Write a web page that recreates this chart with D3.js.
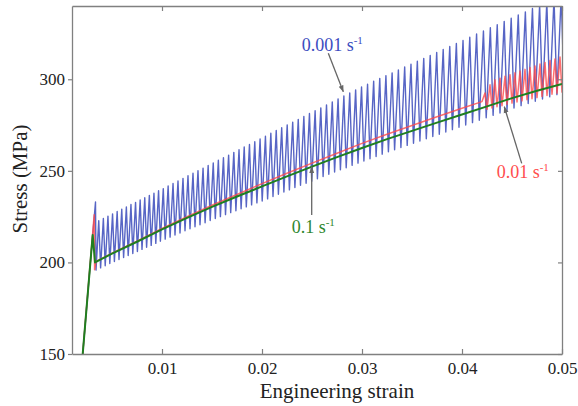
<!DOCTYPE html>
<html>
<head>
<meta charset="utf-8">
<script src="https://cdn.jsdelivr.net/npm/d3@7"></script>
<style>
  body { margin: 0; background: #fff; }
  svg { display: block; }
  svg text { font-family: "Liberation Serif", "Times New Roman", Times, serif !important; }
</style>
</head>
<body>
<svg id="chart" width="578" height="406"></svg>
<script>
// Axis ticks
const xTicks = [0.01, 0.02, 0.03, 0.04, 0.05];
const xTickLabels = ["0.01", "0.02", "0.03", "0.04", "0.05"];
const yTicks = [150, 200, 250, 300];
const yTickLabels = ["150", "200", "250", "300"];

// 0.1 s^-1 : smooth stress-strain response
const greenStrain = [0.00207, 0.00307, 0.0033, 0.005, 0.0075, 0.01, 0.0125, 0.015, 0.0175, 0.02,
  0.0225, 0.025, 0.0275, 0.03, 0.0325, 0.035, 0.0375, 0.04, 0.0425, 0.045, 0.0475, 0.05];
const greenStress = [150, 215, 200, 204.8, 211.3, 218, 224.3, 230.3, 236, 241.5,
  247, 252.3, 257.5, 262.5, 267.3, 271.8, 276.3, 280.8, 285.2, 289.7, 293.7, 297.5];

// 0.01 s^-1 : smooth part, then serrations from 4.2 % strain
const redStrain = [0.00207, 0.00322, 0.00326, 0.0034, 0.005, 0.0075, 0.01, 0.0125, 0.015, 0.0175,
  0.02, 0.0225, 0.025, 0.0275, 0.03, 0.0325, 0.035, 0.0375, 0.04];
const redStress = [150, 226, 196, 200.5, 205.0, 211.6, 218.5, 225.0, 231.2, 237.1,
  243.0, 248.7, 254.2, 259.6, 265.0, 270.0, 274.8, 279.5, 284.2];
const redTeethStrain = [0.0420, 0.0425, 0.0430, 0.0435, 0.0440, 0.0445, 0.0450, 0.0455, 0.0460,
  0.0465, 0.0470, 0.0475, 0.0480, 0.0485, 0.0490, 0.0495, 0.0500];
const redTeethLow = [287.8, 283.6, 284.3, 285.0, 285.6, 286.3, 287.0, 287.6, 288.2,
  288.8, 289.4, 290.0, 290.6, 291.2, 291.8, 292.4, 293.0];
const redTeethHigh = [292.5, 297.0, 299.7, 300.6, 301.6, 302.5, 303.5, 304.5, 305.4,
  306.4, 307.3, 308.3, 309.2, 310.2, 311.1, 312.1, 313.0];

// 0.001 s^-1 : elastic loading, yield spike, then serrated flow
const blueStrain = [0.00207, 0.00335];
const blueStress = [150, 233];
const blueTeethStrain = [
  0.00340, 0.00386, 0.00432, 0.00478, 0.00524, 0.00570, 0.00616, 0.00662, 0.00708, 0.00754,
  0.00800, 0.00846, 0.00892, 0.00938, 0.00984,
  0.01032, 0.01081, 0.01130, 0.01180, 0.01230, 0.01280, 0.01330, 0.01380, 0.01431, 0.01482,
  0.01533, 0.01584, 0.01635, 0.01687, 0.01739, 0.01791, 0.01843, 0.01896, 0.01949, 0.02002,
  0.02056, 0.02110, 0.02164, 0.02219, 0.02274, 0.02329, 0.02385, 0.02441, 0.02497, 0.02554,
  0.02611, 0.02668, 0.02726, 0.02784, 0.02842, 0.02901, 0.02960, 0.03019,
  0.03080, 0.03141, 0.03202, 0.03264, 0.03326, 0.03389, 0.03452, 0.03515, 0.03579, 0.03643,
  0.03708, 0.03773, 0.03838, 0.03904, 0.03970, 0.04037,
  0.04105, 0.04173, 0.04242, 0.04311, 0.04380, 0.04450, 0.04520, 0.04591, 0.04662, 0.04733,
  0.04805, 0.04877, 0.04949, 0.05021];
const blueTeethLow = [
  195.8, 197.0, 198.2, 199.4, 200.5, 201.6, 202.7, 203.8, 204.9, 206.0, 207.1, 208.3, 209.3, 210.4, 211.6,
  212.7, 213.8, 215.0, 216.1, 217.3, 218.4, 219.5, 220.6, 221.7, 222.9, 224.0, 225.0, 226.1, 227.2, 228.2,
  229.3, 230.3, 231.4, 232.5, 233.5,
  234.7, 236.0, 237.2, 238.4, 239.6, 240.9, 242.1, 243.2, 244.4, 245.7, 246.9, 248.1, 249.4, 250.6, 251.7,
  253.0, 254.2, 255.4,
  256.6, 257.8, 259.1, 260.4, 261.5, 262.7, 263.9, 265.1, 266.3, 267.5, 268.7, 270.0, 271.2, 272.5, 273.8, 275.0,
  276.3, 277.6, 279.0, 280.3, 281.6, 283.0, 284.3, 285.6, 286.8, 288.0, 289.2, 290.4, 291.6, 292.8];
const blueTeethHigh = [
  222.8, 224.0, 225.3, 226.5, 227.8, 229.0, 230.3, 231.6, 232.8, 234.1, 235.3, 236.6, 237.8, 239.1, 240.3,
  241.7, 243.1, 244.5, 245.9, 247.3, 248.7, 250.1, 251.5, 252.9, 254.3, 255.8, 257.2, 258.6, 260.1, 261.5,
  263.0, 264.4, 265.9, 267.4, 268.9,
  270.5, 272.0, 273.5, 275.1, 276.6, 278.1, 279.7, 281.3, 282.8, 284.4, 286.0, 287.6, 289.3, 290.9, 292.5,
  294.2, 295.8, 297.3,
  298.9, 300.5, 302.0, 303.5, 305.1, 306.7, 308.2, 309.8, 311.4, 313.0, 314.6, 316.3, 317.9, 319.5, 321.2, 322.9,
  324.7, 326.4, 328.1, 329.8, 331.6, 333.3, 335.1, 336.8, 338.6, 340.4, 342.2, 344.0, 345.8, 347.6];

// Strain-rate labels
const labelText = ["0.001 s", "0.01 s", "0.1 s"];
const labelSup = ["-1", "-1", "-1"];

const width = 578, height = 406;
const margin = { left: 72, right: 16, top: 6, bottom: 52 };
const svg = d3.select("#chart");
const serif = '"Liberation Serif", "Times New Roman", serif';

const x = d3.scaleLinear().domain([0.001, 0.05]).range([margin.left, width - margin.right]);
const y = d3.scaleLinear().domain([150, 340]).range([height - margin.bottom, margin.top]);

const colors = { blue: "#3a4abb", red: "#ff4a4a", green: "#1f7f1f", axis: "#808080", arrow: "#666",
  blueText: "#3b4cc0", redText: "#ff4d4d", greenText: "#2e872e" };

const defs = svg.append("defs");
defs.append("clipPath").attr("id", "plotClip")
  .append("rect")
  .attr("x", margin.left).attr("y", margin.top)
  .attr("width", width - margin.left - margin.right)
  .attr("height", height - margin.top - margin.bottom);
defs.append("marker").attr("id", "arrowHead")
  .attr("viewBox", "0 0 10 10").attr("refX", 9).attr("refY", 5)
  .attr("markerWidth", 7).attr("markerHeight", 7).attr("orient", "auto")
  .attr("markerUnits", "userSpaceOnUse")
  .append("path").attr("d", "M0,1.5 L10,5 L0,8.5 Z").attr("fill", colors.arrow);

// Build a serrated vertex list: each trough rises to its peak, then drops to the next trough
function serrations(xs, lows, highs, riseFrac) {
  const pts = [];
  xs.forEach((s, i) => {
    const next = i < xs.length - 1 ? xs[i + 1] : s + (s - xs[i - 1]);
    pts.push([s, lows[i]]);
    pts.push([s + riseFrac * (next - s), highs[i]]);
  });
  return pts;
}

const line = d3.line().x(d => x(d[0])).y(d => y(d[1]));
const plot = svg.append("g").attr("clip-path", "url(#plotClip)");

const bluePts = blueStrain.map((s, i) => [s, blueStress[i]])
  .concat(serrations(blueTeethStrain, blueTeethLow, blueTeethHigh, 0.6));
plot.append("path").datum(bluePts).attr("d", line)
  .attr("fill", "none").attr("stroke", colors.blue).attr("stroke-width", 1.4)
  .attr("stroke-opacity", 0.85).attr("stroke-linejoin", "round");

const redPts = redStrain.map((s, i) => [s, redStress[i]])
  .concat(serrations(redTeethStrain, redTeethLow, redTeethHigh, 0.6));
plot.append("path").datum(redPts).attr("d", line)
  .attr("fill", "none").attr("stroke", colors.red).attr("stroke-width", 1.5)
  .attr("stroke-opacity", 0.8).attr("stroke-linejoin", "round");

const greenPts = greenStrain.map((s, i) => [s, greenStress[i]]);
plot.append("path").datum(greenPts).attr("d", line)
  .attr("fill", "none").attr("stroke", colors.green).attr("stroke-width", 2)
  .attr("stroke-linejoin", "round");

// Frame and axes
const axisG = svg.append("g");
axisG.append("g").attr("transform", `translate(0,${height - margin.bottom})`)
  .call(d3.axisBottom(x).tickValues(xTicks).tickFormat((d, i) => xTickLabels[i])
    .tickSizeInner(-5).tickSizeOuter(0).tickPadding(8));
axisG.append("g").attr("transform", `translate(0,${margin.top})`)
  .call(d3.axisTop(x).tickValues(xTicks).tickFormat("").tickSizeInner(-5).tickSizeOuter(0));
axisG.append("g").attr("transform", `translate(${margin.left},0)`)
  .call(d3.axisLeft(y).tickValues(yTicks).tickFormat((d, i) => yTickLabels[i])
    .tickSizeInner(4).tickSizeOuter(0).tickPadding(3));
axisG.append("g").attr("transform", `translate(${width - margin.right},0)`)
  .call(d3.axisRight(y).tickValues(yTicks).tickFormat("").tickSizeInner(-4).tickSizeOuter(0));

axisG.selectAll("g").attr("font-family", serif);
axisG.selectAll(".domain").attr("stroke", colors.axis).attr("stroke-width", 1.3);
axisG.selectAll(".tick line").attr("stroke", colors.axis).attr("stroke-width", 1.2);
axisG.selectAll(".tick text").attr("font-size", 17).attr("fill", "#222");

// Axis titles
svg.append("text").attr("x", 337).attr("y", 398).attr("text-anchor", "middle")
  .attr("font-family", serif).attr("font-size", 21).attr("fill", "#222").text("Engineering strain");
svg.append("text").attr("transform", "translate(27,179) rotate(-90)").attr("text-anchor", "middle")
  .attr("font-family", serif).attr("font-size", 21).attr("fill", "#222").text("Stress (MPa)");

// Rate annotations with arrows (positions in data units)
const labelPos = [[0.02397, 315.6], [0.04347, 246.1], [0.02297, 216.2]];
const labelColor = [colors.blueText, colors.redText, colors.greenText];
const arrowFrom = [[0.02663, 314.2], [0.04597, 254.1], [0.02497, 225.9]];
const arrowTo = [[0.02813, 293.2], [0.04423, 285.0], [0.02497, 252.3]];

arrowFrom.forEach((f, i) => {
  svg.append("line")
    .attr("x1", x(f[0])).attr("y1", y(f[1]))
    .attr("x2", x(arrowTo[i][0])).attr("y2", y(arrowTo[i][1]))
    .attr("stroke", colors.arrow).attr("stroke-width", 1.3)
    .attr("marker-end", "url(#arrowHead)");
});

labelText.forEach((t, i) => {
  const txt = svg.append("text")
    .attr("x", x(labelPos[i][0])).attr("y", y(labelPos[i][1]))
    .attr("font-family", serif).attr("font-size", 18).attr("fill", labelColor[i]);
  txt.append("tspan").text(t);
  txt.append("tspan").attr("font-size", 11).attr("dy", -7).text(labelSup[i]);
});
</script>
</body>
</html>
